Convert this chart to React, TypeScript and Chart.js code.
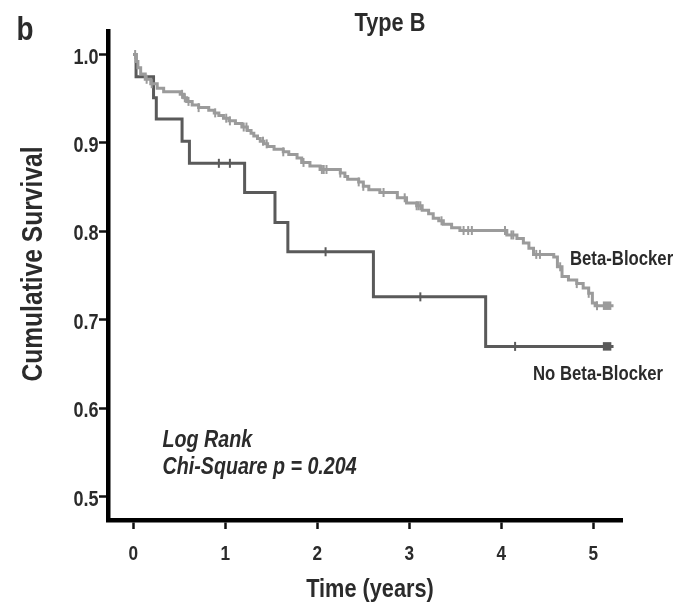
import React, { useEffect, useRef } from "react";
import { Chart, registerables } from "chart.js";

Chart.register(...registerables);

// Axis ticks
const xTicks = [0, 1, 2, 3, 4, 5];
const yTicks = [0.5, 0.6, 0.7, 0.8, 0.9, 1.0];

// Beta-Blocker group: event times (years) and survival after each event
const bbTimes = [
  0.03, 0.05, 0.08, 0.13, 0.19, 0.26, 0.33, 0.51, 0.55, 0.58, 0.64, 0.71, 0.82, 0.88,
  0.93, 0.98, 1.04, 1.11, 1.18, 1.24, 1.28, 1.31, 1.35, 1.38, 1.42, 1.46, 1.53, 1.63,
  1.69, 1.78, 1.83, 1.92, 2.03, 2.25, 2.3, 2.33, 2.45, 2.5, 2.56, 2.68, 2.87, 2.97,
  3.08, 3.14, 3.21, 3.26, 3.32, 3.37, 3.46, 3.55, 4.06, 4.17, 4.24, 4.3, 4.35, 4.57,
  4.61, 4.66, 4.73, 4.82, 4.89, 4.95, 4.99, 5.02,
];
const bbSurv = [
  0.992, 0.985, 0.978, 0.972, 0.967, 0.962, 0.958, 0.955, 0.951, 0.947, 0.943, 0.94, 0.937, 0.934,
  0.931, 0.928, 0.925, 0.922, 0.918, 0.914, 0.911, 0.908, 0.905, 0.902, 0.899, 0.896, 0.893, 0.89,
  0.887, 0.883, 0.878, 0.874, 0.87, 0.866, 0.862, 0.859, 0.856, 0.851, 0.847, 0.844, 0.838, 0.832,
  0.829, 0.824, 0.82, 0.815, 0.812, 0.808, 0.804, 0.801, 0.796, 0.792, 0.787, 0.781, 0.774, 0.771,
  0.76, 0.749, 0.745, 0.741, 0.736, 0.73, 0.719, 0.716,
];
// Censored observations (years)
const bbCensor = [
  0.02, 0.145, 0.2, 0.53, 0.56, 0.6, 0.71, 0.89, 1.01, 1.05, 1.2, 1.23, 1.41, 1.45, 1.63,
  1.85, 2.05, 2.07, 2.1, 2.25, 2.45, 2.5, 2.72, 2.95, 3.08, 3.1, 3.12, 3.35, 3.59, 3.64,
  3.68, 4.04, 4.11, 4.13, 4.38, 4.42, 4.64, 4.82, 4.95, 5.04,
];
const bbFollowUpEnd = 5.22;
const bbLastCensor = 5.15;

// No Beta-Blocker group
const noBbTimes = [0.03, 0.22, 0.25, 0.53, 0.61, 1.21, 1.54, 1.68, 2.61, 3.83];
const noBbSurv = [0.975, 0.951, 0.927, 0.902, 0.877, 0.844, 0.81, 0.777, 0.726, 0.67];
const noBbCensor = [0.93, 1.05, 2.09, 3.12, 4.15];
const noBbFollowUpEnd = 5.22;
const noBbLastCensor = 5.15;

const FONT = "'Liberation Sans', Arial, sans-serif";
// Horizontal squeeze giving a narrow-sans look
const NARROW = 0.82;
const TEXT = "#2b2b2b";
const BB_COLOR = "#9b9b9b";
const NOBB_COLOR = "#5a5a5a";

function survivalAt(times: number[], surv: number[], t: number): number {
  let s = 1;
  for (let i = 0; i < times.length; i++) if (times[i] <= t) s = surv[i];
  return s;
}

function kmCurve(times: number[], surv: number[], end: number) {
  const pts = [{ x: 0, y: 1 }];
  times.forEach((t, i) => pts.push({ x: t, y: surv[i] }));
  pts.push({ x: end, y: surv[surv.length - 1] });
  return pts;
}

function censorPoints(times: number[], surv: number[], censor: number[]) {
  return censor.map((t) => ({ x: t, y: survivalAt(times, surv, t) }));
}

function narrowText(
  ctx: CanvasRenderingContext2D,
  text: string,
  x: number,
  y: number,
  font: string,
  align: CanvasTextAlign,
  rotate = 0
) {
  ctx.save();
  ctx.translate(x, y);
  if (rotate) ctx.rotate(rotate);
  ctx.scale(NARROW, 1);
  ctx.font = font;
  ctx.textAlign = align;
  ctx.textBaseline = "alphabetic";
  ctx.fillText(text, 0, 0);
  ctx.restore();
}

const textLayer = {
  id: "textLayer",
  afterDraw(chart: any) {
    const ctx: CanvasRenderingContext2D = chart.ctx;
    const xs = chart.scales.x;
    const ys = chart.scales.y;
    const area = chart.chartArea;
    ctx.save();
    ctx.fillStyle = TEXT;

    // tick labels
    xTicks.forEach((v) =>
      narrowText(ctx, String(v), xs.getPixelForValue(v), area.bottom + 40, `bold 21px ${FONT}`, "center")
    );
    yTicks.forEach((v) =>
      narrowText(ctx, v.toFixed(1), area.left - 9.5, ys.getPixelForValue(v) + 9, `bold 22px ${FONT}`, "right")
    );

    // axis titles
    narrowText(ctx, "Time (years)", 370, 597, `bold 26.5px ${FONT}`, "center");
    narrowText(ctx, "Cumulative Survival", 41.5, 264, `bold 30px ${FONT}`, "center", -Math.PI / 2);

    // panel letter and title
    narrowText(ctx, "b", 16.5, 40, `bold 34px ${FONT}`, "left");
    narrowText(ctx, "Type B", 390, 31, `bold 26.5px ${FONT}`, "center");

    // test statistic
    narrowText(ctx, "Log Rank", 162.5, 446.5, `italic bold 24px ${FONT}`, "left");
    narrowText(ctx, "Chi-Square p = 0.204", 162.5, 474, `italic bold 24px ${FONT}`, "left");

    // group labels
    narrowText(ctx, "Beta-Blocker", 570, 265, `bold 20.4px ${FONT}`, "left");
    narrowText(ctx, "No Beta-Blocker", 533, 380, `bold 20.4px ${FONT}`, "left");
    ctx.restore();
  },
};

export default function App() {
  const canvasRef = useRef<HTMLCanvasElement | null>(null);

  useEffect(() => {
    const canvas = canvasRef.current;
    if (!canvas) return;

    const gridOpts = {
      drawOnChartArea: false,
      drawTicks: true,
      tickLength: 9,
      tickWidth: 2.5,
      tickColor: "#111",
    };

    const chart = new Chart(canvas, {
      type: "line",
      data: {
        datasets: [
          {
            label: "Beta-Blocker",
            data: kmCurve(bbTimes, bbSurv, bbFollowUpEnd),
            stepped: true,
            borderColor: BB_COLOR,
            borderWidth: 3,
            pointRadius: 0,
            fill: false,
          },
          {
            label: "Beta-Blocker censored",
            type: "scatter",
            data: censorPoints(bbTimes, bbSurv, bbCensor),
            pointStyle: "line",
            rotation: 90,
            pointRadius: 4.5,
            borderColor: BB_COLOR,
            borderWidth: 2,
            showLine: false,
          },
          {
            label: "Beta-Blocker last",
            type: "scatter",
            data: [{ x: bbLastCensor, y: survivalAt(bbTimes, bbSurv, bbLastCensor) }],
            pointStyle: "rect",
            pointRadius: 6,
            backgroundColor: BB_COLOR,
            borderWidth: 0,
            showLine: false,
          },
          {
            label: "No Beta-Blocker",
            data: kmCurve(noBbTimes, noBbSurv, noBbFollowUpEnd),
            stepped: true,
            borderColor: NOBB_COLOR,
            borderWidth: 3,
            pointRadius: 0,
            fill: false,
          },
          {
            label: "No Beta-Blocker censored",
            type: "scatter",
            data: censorPoints(noBbTimes, noBbSurv, noBbCensor),
            pointStyle: "line",
            rotation: 90,
            pointRadius: 4.5,
            borderColor: NOBB_COLOR,
            borderWidth: 2,
            showLine: false,
          },
          {
            label: "No Beta-Blocker last",
            type: "scatter",
            data: [{ x: noBbLastCensor, y: survivalAt(noBbTimes, noBbSurv, noBbLastCensor) }],
            pointStyle: "rect",
            pointRadius: 6,
            backgroundColor: NOBB_COLOR,
            borderWidth: 0,
            showLine: false,
          },
        ],
      },
      options: {
        responsive: false,
        animation: false,
        events: [],
        layout: { padding: { top: 31, right: 54, left: 0, bottom: 0 } },
        plugins: {
          legend: { display: false },
          tooltip: { enabled: false },
          title: { display: false },
        },
        scales: {
          x: {
            type: "linear",
            min: -0.275,
            max: 5.312,
            afterBuildTicks: (s: any) => {
              s.ticks = xTicks.map((v) => ({ value: v }));
            },
            afterFit: (s: any) => {
              s.height = 83;
            },
            grid: gridOpts,
            border: { display: true, width: 4.5, color: "#000" },
            ticks: { display: false },
            title: { display: false },
          },
          y: {
            type: "linear",
            min: 0.4737,
            max: 1.0266,
            afterBuildTicks: (s: any) => {
              s.ticks = yTicks.map((v) => ({ value: v }));
            },
            afterFit: (s: any) => {
              s.width = 108;
            },
            grid: gridOpts,
            border: { display: true, width: 4.5, color: "#000" },
            ticks: { display: false },
            title: { display: false },
          },
        },
      },
      plugins: [textLayer],
    } as any);

    return () => chart.destroy();
  }, []);

  return (
    <div
      style={{
        position: "fixed",
        left: 0,
        top: 0,
        width: 676,
        height: 603,
        background: "#fff",
      }}
    >
      <canvas ref={canvasRef} width={676} height={603} style={{ display: "block" }} />
    </div>
  );
}
